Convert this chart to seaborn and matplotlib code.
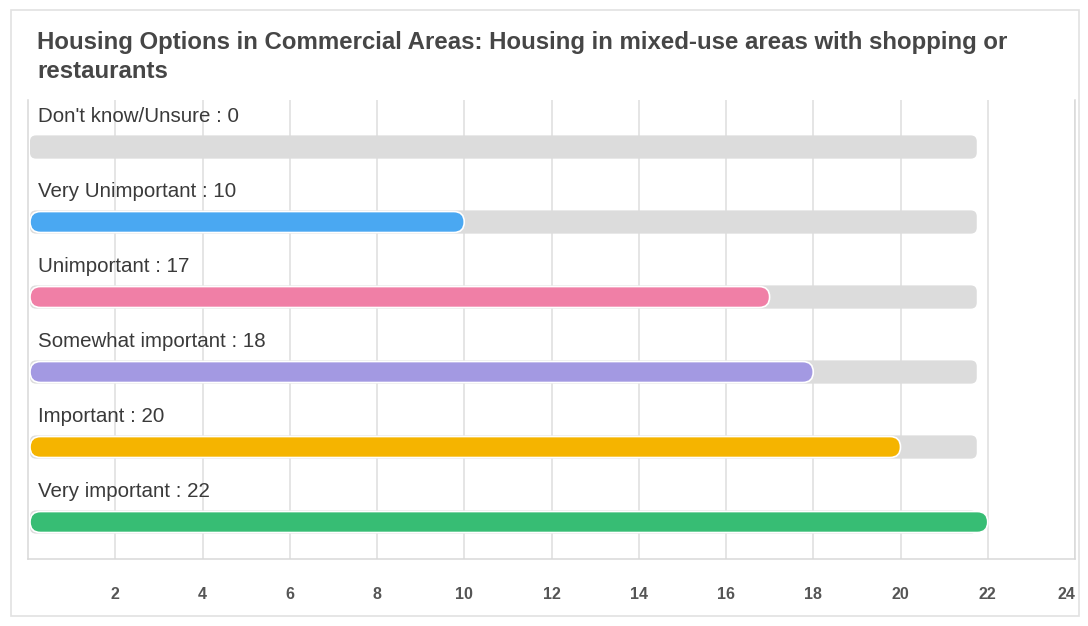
import matplotlib
matplotlib.use("Agg")
import matplotlib.pyplot as plt
import seaborn as sns
import pandas as pd
from matplotlib.patches import FancyBboxPatch, Rectangle

# Survey responses
categories = ["Don't know/Unsure", "Very Unimportant", "Unimportant",
              "Somewhat important", "Important", "Very important"]
counts = [0, 10, 17, 18, 20, 22]
colors = ["#d9d9d9", "#4aa8f2", "#f07fa6", "#a399e2", "#f5b400", "#37bd74"]
x_ticks = [2, 4, 6, 8, 10, 12, 14, 16, 18, 20, 22, 24]
title = "Housing Options in Commercial Areas: Housing in mixed-use areas with shopping or\nrestaurants"

sns.set_theme(style="white")
plt.rcParams["font.family"] = ["Liberation Sans", "DejaVu Sans"]

df = pd.DataFrame({"category": categories, "count": counts})
track_max = max(counts)
df["track"] = track_max

W, H = 1088, 626
fig = plt.figure(figsize=(W / 100, H / 100), dpi=100)
fig.patch.set_facecolor("white")

# card outline
fig.add_artist(Rectangle((11 / W, 10 / H), (1079 - 11) / W, (616 - 10) / H,
                         transform=fig.transFigure, fill=False,
                         edgecolor="#e2e2e2", linewidth=1.2))

fig.text(37 / W, 1 - 57 / H, title, fontsize=17.3, fontweight="bold",
         color="#464646", ha="left", va="center", linespacing=1.3)

ax_left, ax_right, ax_top, ax_bottom = 28, 1075, 100, 559
ax = fig.add_axes([ax_left / W, 1 - ax_bottom / H,
                   (ax_right - ax_left) / W, (ax_bottom - ax_top) / H])

# background tracks, then the value bars on top
sns.barplot(data=df, y="category", x="track", orient="h", color="#dcdcdc",
            width=0.31, saturation=1, ax=ax)
n_track = len(ax.patches)
sns.barplot(data=df, y="category", x="count", orient="h", hue="category",
            palette=colors, legend=False, width=0.28, saturation=1, ax=ax)

ax.set_xlim(0, 24)
ax.set_ylim(5.493, -0.627)

fig.canvas.draw()
px_x = ax.transData.transform((1, 0))[0] - ax.transData.transform((0, 0))[0]
px_y = abs(ax.transData.transform((0, 1))[1] - ax.transData.transform((0, 0))[1])
aspect = px_x / px_y

# swap the square bars for rounded ones
patches = list(ax.patches)
for i, p in enumerate(patches):
    x0, y0 = p.get_x(), p.get_y()
    w, h = p.get_width(), p.get_height()
    fc = p.get_facecolor()
    p.remove()
    if w <= 0:
        continue
    if i < n_track:
        r_px = 6
        x0 = x0 + 2 / px_x
        w = w - 13 / px_x
        ec, lw, z = "none", 0, 1
    else:
        r_px = h * px_y / 2
        x0 = x0 + 2 / px_x
        w = w - 2 / px_x
        ec, lw, z = "white", 1.2, 3
    ax.add_patch(FancyBboxPatch((x0, y0), w, h,
                                boxstyle=f"round,pad=0,rounding_size={r_px / px_x}",
                                mutation_aspect=aspect,
                                facecolor=fc, edgecolor=ec, linewidth=lw,
                                zorder=z))

# category labels above each bar
for i, (cat, val) in enumerate(zip(categories, counts)):
    ax.text(10 / px_x, i - 0.41, f"{cat} : {val}", fontsize=14.8,
            color="#3a3a3a", ha="left", va="center", zorder=4)

ax.set_xticks(x_ticks)
ax.set_xticklabels([str(t) for t in x_ticks], fontsize=11.5, fontweight="bold",
                   color="#555555")
ax.get_xticklabels()[-1].set_horizontalalignment("right")
ax.tick_params(axis="x", length=0, pad=20)
ax.set_yticks([])
ax.set_xlabel("")
ax.set_ylabel("")
ax.grid(axis="x", color="#dedede", linewidth=1.1, zorder=0)
ax.set_axisbelow(True)
for side in ["left", "bottom", "right"]:
    ax.spines[side].set_color("#d8d8d8")
    ax.spines[side].set_linewidth(1.1)
ax.spines["top"].set_visible(False)

fig.savefig("out.png", dpi=100, facecolor="white")
